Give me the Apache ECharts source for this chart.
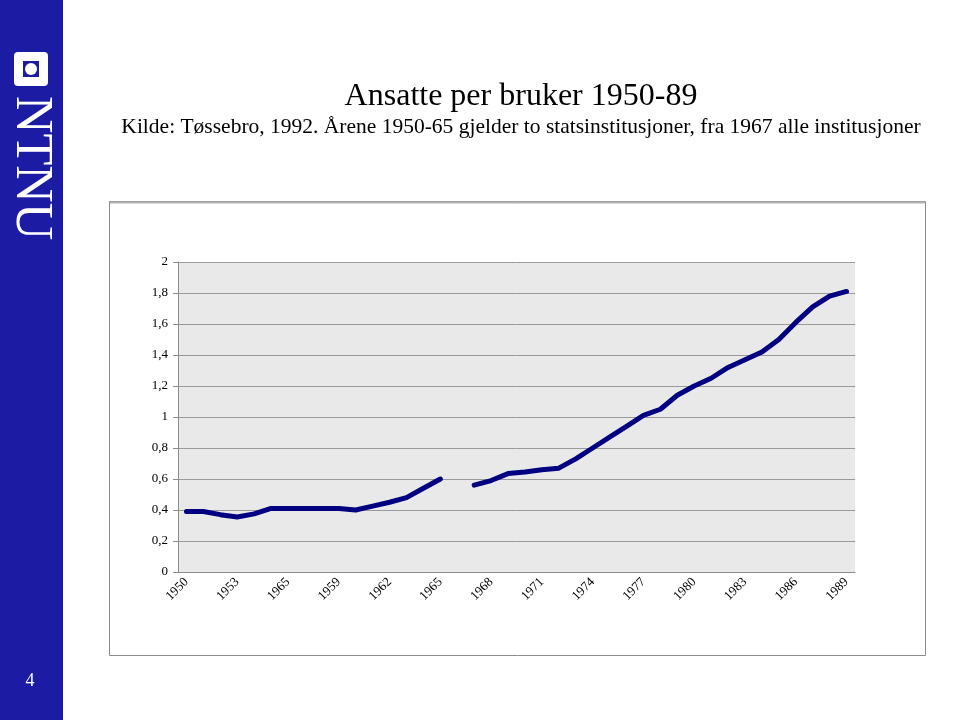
<!DOCTYPE html>
<html><head><meta charset="utf-8">
<script src="https://cdn.jsdelivr.net/npm/echarts@6/dist/echarts.min.js"></script>
<style>html,body{margin:0;padding:0;background:#fff}#c{width:960px;height:720px}</style>
</head><body><div id="c"></div>
<script>
var years = ['1950','1951','1952','1953','1954','1955','1965','1957','1958','1959','1960','1961','1962','1963','1964','1965','1966','1967','1968','1969','1970','1971','1972','1973','1974','1975','1976','1977','1978','1979','1980','1981','1982','1983','1984','1985','1986','1987','1988','1989'];
var ansattePerBruker = [0.39,0.39,0.37,0.355,0.375,0.41,0.41,0.41,0.41,0.41,0.40,0.425,0.45,0.48,0.54,0.60,null,0.56,0.59,0.635,0.645,0.66,0.67,0.73,0.80,0.87,0.94,1.01,1.05,1.14,1.20,1.25,1.32,1.37,1.42,1.50,1.61,1.71,1.78,1.81];
var titleText = 'Ansatte per bruker 1950-89';
var subtitleText = 'Kilde: Tøssebro, 1992. Årene 1950-65 gjelder to statsinstitusjoner, fra 1967 alle institusjoner';

var chart = echarts.init(document.getElementById('c'));
var serif = '"Liberation Serif","Times New Roman",serif';
chart.setOption({
  animation: false,
  backgroundColor: '#ffffff',
  graphic: [
    {type:'rect', shape:{x:0,y:0,width:63,height:720}, style:{fill:'#1b1ba3'}, z:-10},
    {type:'rect', shape:{x:14,y:52,width:34,height:34,r:4}, style:{fill:'#ffffff'}},
    {type:'rect', shape:{x:23,y:61,width:16,height:16}, style:{fill:'#1b1ba3'}},
    {type:'circle', shape:{cx:31,cy:69,r:6}, style:{fill:'#ffffff'}},
    {type:'text', x:5, y:96, rotation:-Math.PI/2, style:{text:'NTNU', fill:'#ffffff', font:'52px ' + serif, textAlign:'left', textVerticalAlign:'bottom'}},
    {type:'text', x:30, y:681, style:{text:'4', fill:'#ffffff', font:'18px ' + serif, textAlign:'center', textVerticalAlign:'middle'}},
    {type:'rect', shape:{x:109.5,y:201.5,width:816,height:454}, style:{fill:'none', stroke:'#8c8c8c', lineWidth:1}, z:-5},
    {type:'line', shape:{x1:110,y1:202.5,x2:925,y2:202.5}, style:{stroke:'#b4b4b4', lineWidth:2}, z:-4},
    {type:'text', x:521, y:97, style:{text:titleText, fill:'#000', font:'32px ' + serif, textAlign:'center', textVerticalAlign:'middle'}},
    {type:'text', x:521, y:127, style:{text:subtitleText, fill:'#000', font:'21.5px ' + serif, textAlign:'center', textVerticalAlign:'middle'}}
  ],
  grid: {left:178, right:105, top:262, bottom:148, show:true, backgroundColor:'#e9e9e9', borderWidth:0},
  xAxis: {
    type:'category', data: years, boundaryGap:true,
    axisLine:{lineStyle:{color:'#8c8c8c', width:1}},
    axisTick:{interval:0, length:5, lineStyle:{color:'#8c8c8c'}},
    axisLabel:{interval:2, rotate:45, color:'#000', fontFamily:serif, fontSize:13, margin:8},
    splitLine:{show:false}
  },
  yAxis: {
    type:'value', min:0, max:2, interval:0.2,
    axisLine:{show:true, lineStyle:{color:'#8c8c8c', width:1}},
    axisTick:{show:true, length:5, lineStyle:{color:'#8c8c8c'}},
    axisLabel:{color:'#000', fontFamily:serif, fontSize:13, margin:10, formatter:function(v){return String(Math.round(v*10)/10).replace('.',',');}},
    splitLine:{lineStyle:{color:'#9a9a9a', width:1}}
  },
  series: [{
    type:'line', data: ansattePerBruker, connectNulls:false, showSymbol:false, symbol:'none',
    lineStyle:{color:'#000080', width:5, join:'round', cap:'round'}
  }]
});
</script></body></html>
